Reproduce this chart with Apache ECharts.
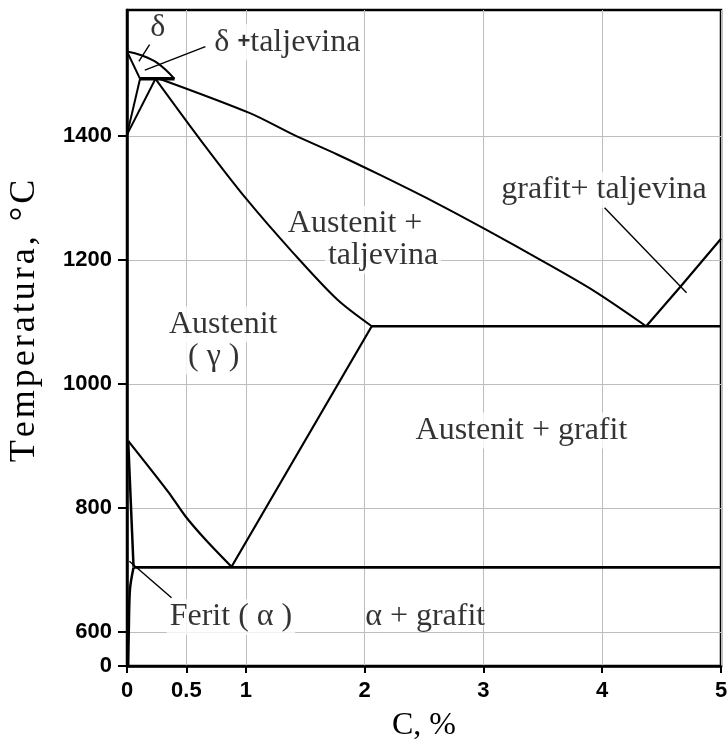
<!DOCTYPE html>
<html>
<head>
<meta charset="utf-8">
<script src="https://cdn.jsdelivr.net/npm/echarts@6/dist/echarts.min.js"></script>
<style>
  html, body { margin: 0; padding: 0; background: #fff; }
  #chart { width: 727px; height: 742px; }
</style>
</head>
<body>
<div id="chart"></div>
<script>
// axis ticks
const xTicks = [0, 0.5, 1, 2, 3, 4, 5]
const yTicks = [0, 600, 800, 1000, 1200, 1400]

// phase boundaries, [C %, T °C]
const deltaLiquidus = [[0, 1536], [0.12, 1530], [0.26, 1517], [0.40, 1492]]
const deltaSolidus = [[0, 1536], [0.11, 1492]]
const peritectic = [[0.11, 1492], [0.40, 1492]]
const deltaGammaLeft = [[0.11, 1492], [0, 1402]]
const deltaGammaRight = [[0.24, 1492], [0, 1402]]
const gammaSolidus = [[0.24, 1492], [0.64, 1388], [1.01, 1297], [1.40, 1211], [1.77, 1136], [2.06, 1093]]
const liquidus = [[0.26, 1493], [1.03, 1437], [1.40, 1402], [1.77, 1370], [2.13, 1337], [2.58, 1294],
  [3.03, 1248], [3.48, 1200], [3.93, 1150], [4.37, 1093]]
const graphiteLiquidus = [[4.37, 1093], [4.66, 1157], [5, 1234]]
const eutectic = [[2.06, 1093], [5, 1093]]
const a3Line = [[0.01, 908], [0.18, 867], [0.35, 825], [0.49, 787], [0.66, 749], [0.88, 705]]
const acmLine = [[0.88, 705], [2.06, 1093]]
const alphaLine = [[0.01, 908], [0.055, 705]]
const eutectoid = [[0.055, 704], [5, 704]]
const ferriteSolvus = [[0.055, 704], [0.025, 669], [0.015, 600], [0.01, 0]]

// leader lines
const deltaLeader = [[0.19, 1547], [0.10, 1520]]
const deltaMeltLeader = [[0.66, 1544], [0.15, 1506]]
const ferriteLeader = [[0.02, 714], [0.375, 655]]
const graphiteLeader = [[4.02, 1284], [4.71, 1147]]

// region names, anchored in [C %, T °C]
const regionNames = [
  { text: '{g|δ}', at: [0.26, 1574], box: false },
  { text: '{g|δ} {b|+}{g|taljevina}', at: [1.35, 1551], box: true },
  { text: 'Austenit +', at: [1.92, 1258], box: true },
  { text: 'taljevina', at: [2.155, 1207], box: true },
  { text: 'grafit+ taljevina', at: [4.015, 1313], box: true },
  { text: 'Austenit', at: [0.81, 1096], box: true },
  { text: '( γ )', at: [0.73, 1044], box: true },
  { text: 'Austenit + grafit', at: [3.32, 925], box: true },
  { text: 'Ferit ( α )', at: [0.875, 624], box: true },
  { text: 'α + grafit', at: [2.51, 625], box: false }
]

const yTitle = 'Temperatura, °C'

// broken temperature axis: 0..600 squeezed into a short band
const BREAK = 600
const BREAK_SPAN = 55
const yMap = t => t >= BREAK ? t : BREAK - (BREAK - t) * BREAK_SPAN / BREAK
const yUnmap = v => v >= BREAK ? v : BREAK - (BREAK - v) * BREAK / BREAK_SPAN

const SERIF = 'Liberation Serif'
const SANS = 'Liberation Sans'

function boundary(data, width, smooth) {
  return {
    type: 'line',
    data: data.map(([c, t]) => [c, yMap(t)]),
    symbol: 'none',
    smooth: smooth || false,
    silent: true,
    z: 4,
    lineStyle: { color: '#000', width: width }
  }
}

const chart = echarts.init(document.getElementById('chart'))

const option = {
  animation: false,
  backgroundColor: '#fff',
  grid: {
    left: 127, right: 6, top: 10, bottom: 76,
    containLabel: false,
    outerBoundsMode: 'none',
    show: true, borderColor: '#000', borderWidth: 2.5
  },
  xAxis: {
    type: 'value',
    min: 0,
    max: 5,
    name: 'C, %',
    nameLocation: 'middle',
    nameGap: 44,
    nameTextStyle: { fontFamily: SERIF, fontSize: 32, color: '#000' },
    axisLine: { onZero: false, lineStyle: { color: '#000', width: 2.5 } },
    axisTick: { customValues: xTicks, length: 7, lineStyle: { color: '#000', width: 2 } },
    axisLabel: {
      customValues: xTicks,
      margin: 14,
      fontFamily: SANS, fontWeight: 'bold', fontSize: 22, color: '#000',
      formatter: v => String(v)
    },
    splitLine: { show: true, lineStyle: { color: '#bdbdbd', width: 1 } }
  },
  yAxis: {
    type: 'value',
    min: yMap(0),
    max: 1603,
    // the original title is slightly letter-spaced
    name: yTitle.split('').join('\u200A'),
    nameLocation: 'middle',
    nameRotate: 90,
    nameGap: 84,
    nameTextStyle: { fontFamily: SERIF, fontSize: 36, color: '#000', padding: [0, 0, 0, 34] },
    axisLine: { onZero: false, lineStyle: { color: '#000', width: 2.5 } },
    axisTick: { customValues: yTicks.map(yMap), length: 9, lineStyle: { color: '#000', width: 2 } },
    axisLabel: {
      customValues: yTicks.map(yMap),
      margin: 15,
      fontFamily: SANS, fontWeight: 'bold', fontSize: 22, color: '#000',
      formatter: v => String(Math.round(yUnmap(v)))
    },
    splitLine: { show: true, lineStyle: { color: '#bdbdbd', width: 1 } }
  },
  series: [
    boundary(deltaLiquidus, 2, 0.4),
    boundary(deltaSolidus, 2),
    boundary(peritectic, 3.5),
    boundary(deltaGammaLeft, 2),
    boundary(deltaGammaRight, 2),
    boundary(gammaSolidus, 2, 0.3),
    boundary(liquidus, 2, 0.3),
    boundary(graphiteLiquidus, 2.2),
    boundary(eutectic, 2.5),
    boundary(a3Line, 2.2, 0.3),
    boundary(acmLine, 2.2),
    boundary(alphaLine, 2.5),
    boundary(eutectoid, 2.8),
    boundary(ferriteSolvus, 2.5, 0.3),
    boundary(deltaLeader, 1.4),
    boundary(deltaMeltLeader, 1.4),
    boundary(ferriteLeader, 1.4),
    boundary(graphiteLeader, 1.4),
    {
      type: 'scatter',
      symbolSize: 0,
      silent: true,
      z: 3,
      data: regionNames.map(r => ({
        value: [r.at[0], yMap(r.at[1])],
        name: r.text,
        label: { backgroundColor: r.box ? '#fff' : 'transparent' }
      })),
      label: {
        show: true,
        position: 'inside',
        formatter: p => p.name,
        fontFamily: SERIF,
        fontSize: 32,
        color: '#000',
        textBorderWidth: 0,
        padding: [2, 3],
        rich: {
          g: { fontFamily: SERIF, fontSize: 32, color: '#000' },
          b: { fontFamily: SANS, fontWeight: 'bold', fontSize: 22, color: '#000' }
        }
      }
    }
  ]
}

chart.setOption(option)
</script>
</body>
</html>
